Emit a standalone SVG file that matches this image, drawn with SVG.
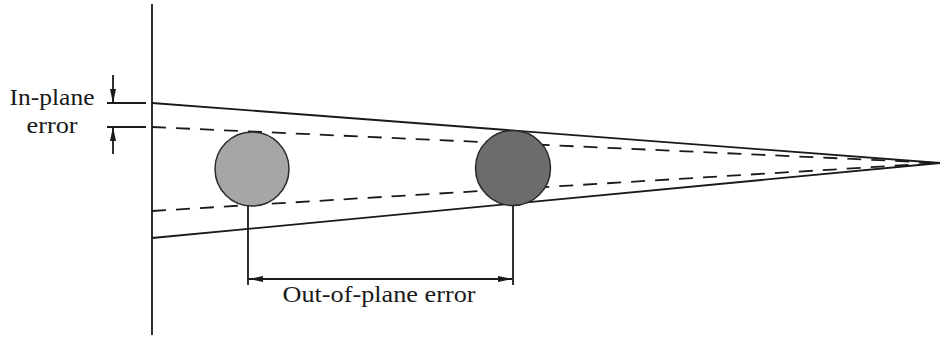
<svg xmlns="http://www.w3.org/2000/svg" width="944" height="337" viewBox="0 0 944 337">
<style>
.ln{stroke:#1a1a1a;stroke-width:1.8;fill:none}
.dash{stroke:#1a1a1a;stroke-width:1.8;fill:none;stroke-dasharray:14 10}
.txt{font-family:"Liberation Serif","DejaVu Serif",serif;font-size:24px;fill:#1a1a1a}
.circ{stroke:#2a2a2a;stroke-width:1.5}
</style>
<defs>
<marker id="ah" viewBox="0 0 14 6" refX="14" refY="3" markerWidth="14" markerHeight="6" markerUnits="userSpaceOnUse" orient="auto">
<path d="M0,0 L14,3 L0,6 Z" fill="#1a1a1a"/>
</marker>
</defs>
<rect width="944" height="337" fill="#ffffff"/>
<g id="connectors">
<line class="ln" x1="152" y1="4" x2="152" y2="335"/>
<line class="ln" x1="152" y1="103" x2="940" y2="163"/>
<line class="ln" x1="152" y1="238" x2="940" y2="163"/>
<line class="dash" x1="152" y1="127" x2="930" y2="162.5"/>
<line class="dash" x1="152" y1="211" x2="930" y2="163.6"/>
<line class="ln" x1="107" y1="103" x2="146" y2="103"/>
<line class="ln" x1="107" y1="127" x2="146" y2="127"/>
<line class="ln" x1="113" y1="75" x2="113" y2="103" marker-end="url(#ah)"/>
<line class="ln" x1="113" y1="154" x2="113" y2="127" marker-end="url(#ah)"/>
<line class="ln" x1="248" y1="205" x2="248" y2="285"/>
<line class="ln" x1="513" y1="205" x2="513" y2="285"/>
<line class="ln" x1="380" y1="279" x2="249" y2="279" marker-end="url(#ah)"/>
<line class="ln" x1="380" y1="279" x2="512" y2="279" marker-end="url(#ah)"/>
</g>
<g id="target-light">
<circle class="circ" cx="252" cy="169" r="37" fill="#a6a6a6"/>
</g>
<g id="target-dark">
<circle class="circ" cx="513" cy="168" r="37.5" fill="#6c6c6c"/>
</g>
<g id="label-in-plane">
<text class="txt" x="52" y="105" text-anchor="middle" textLength="85" lengthAdjust="spacingAndGlyphs">In-plane</text>
<text class="txt" x="52" y="133" text-anchor="middle" textLength="51" lengthAdjust="spacingAndGlyphs">error</text>
</g>
<g id="label-out-of-plane">
<text class="txt" x="379" y="302" text-anchor="middle" textLength="193" lengthAdjust="spacingAndGlyphs">Out-of-plane error</text>
</g>
</svg>
